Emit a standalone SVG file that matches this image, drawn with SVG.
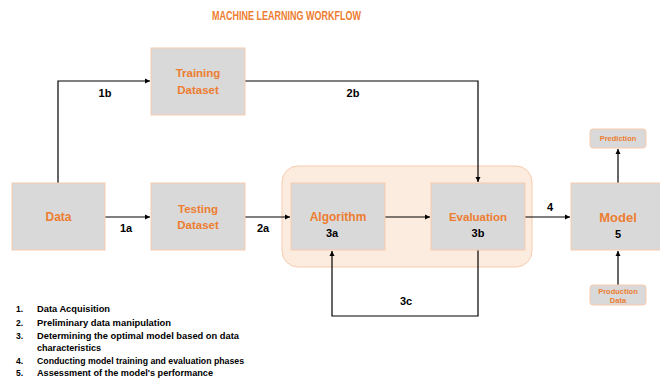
<svg xmlns="http://www.w3.org/2000/svg" width="660" height="383" viewBox="0 0 660 383">
<defs>
<marker id="arr" markerWidth="6" markerHeight="6" refX="5" refY="3" orient="auto" markerUnits="userSpaceOnUse">
<path d="M0,0.5 L5,3 L0,5.5 Z" fill="#000"/>
</marker>
</defs>
<style>
.box{fill:#D9D9D9;stroke:#F8CBAD;stroke-width:1}
.lbl{font-family:"Liberation Sans",Arial,sans-serif;font-weight:bold;fill:#ED7D31;text-anchor:middle}
.num{font-family:"Liberation Sans",Arial,sans-serif;font-weight:bold;fill:#000;text-anchor:middle;font-size:11px}
.leg{font-family:"Liberation Sans",Arial,sans-serif;font-weight:bold;fill:#000;font-size:8.5px}
.con{fill:none;stroke:#000;stroke-width:1.2}
</style>
<rect width="660" height="383" fill="#fff"/>
<text x="286.5" y="19.5" class="lbl" font-size="12.5" textLength="149" lengthAdjust="spacingAndGlyphs">MACHINE LEARNING WORKFLOW</text>

<g id="group-highlight">
<rect x="282" y="166" width="250" height="101" rx="16" fill="#FCEBDF" stroke="#F8CBAD" stroke-width="1"/>
</g>

<g id="connectors">
<polyline class="con" points="58,183 58,81 150,81" marker-end="url(#arr)"/>
<polyline class="con" points="245,81 478,81 478,182" marker-end="url(#arr)"/>
<line class="con" x1="105" y1="217" x2="150" y2="217" marker-end="url(#arr)"/>
<line class="con" x1="245" y1="217" x2="290" y2="217" marker-end="url(#arr)"/>
<line class="con" x1="385" y1="217" x2="430" y2="217" marker-end="url(#arr)"/>
<line class="con" x1="525" y1="217" x2="570" y2="217" marker-end="url(#arr)"/>
<polyline class="con" points="478,250 478,316 332,316 332,251" marker-end="url(#arr)"/>
<line class="con" x1="618" y1="183" x2="618" y2="149" marker-end="url(#arr)"/>
<line class="con" x1="618" y1="285" x2="618" y2="251" marker-end="url(#arr)"/>
<text x="105" y="97" class="num">1b</text>
<text x="353" y="97" class="num">2b</text>
<text x="126" y="232" class="num">1a</text>
<text x="263" y="232" class="num">2a</text>
<text x="550" y="211" class="num">4</text>
<text x="406" y="305" class="num">3c</text>
</g>

<g id="node-data">
<rect class="box" x="12" y="183" width="93" height="67"/>
<text x="58.5" y="221" class="lbl" font-size="12">Data</text>
</g>
<g id="node-training">
<rect class="box" x="151" y="48" width="94" height="67"/>
<text x="198" y="77" class="lbl" font-size="11.5">Training</text>
<text x="198" y="94" class="lbl" font-size="11.5">Dataset</text>
</g>
<g id="node-testing">
<rect class="box" x="151" y="183" width="94" height="67"/>
<text x="198" y="213" class="lbl" font-size="11.5">Testing</text>
<text x="198" y="229" class="lbl" font-size="11.5">Dataset</text>
</g>
<g id="node-algorithm">
<rect class="box" x="291" y="183" width="94" height="67"/>
<text x="338" y="221" class="lbl" font-size="12">Algorithm</text>
<text x="332" y="237" class="num">3a</text>
</g>
<g id="node-evaluation">
<rect class="box" x="431" y="183" width="94" height="67"/>
<text x="478" y="221" class="lbl" font-size="11.5">Evaluation</text>
<text x="478" y="237" class="num">3b</text>
</g>
<g id="node-model">
<rect class="box" x="571" y="183" width="94" height="67"/>
<text x="618" y="222" class="lbl" font-size="13">Model</text>
<text x="618" y="237.5" class="num" font-size="12">5</text>
</g>
<g id="node-prediction">
<rect class="box" x="590" y="129" width="56" height="19" rx="3"/>
<text x="618" y="141" class="lbl" font-size="7.5">Prediction</text>
</g>
<g id="node-production">
<rect class="box" x="590" y="285" width="56" height="20" rx="3"/>
<text x="618" y="293.5" class="lbl" font-size="7.5">Production</text>
<text x="618" y="302.5" class="lbl" font-size="7.5">Data</text>
</g>

<g id="legend">
<text x="16" y="312" class="leg">1.</text>
<text x="37" y="312" class="leg" textLength="73" lengthAdjust="spacingAndGlyphs">Data Acquisition</text>
<text x="16" y="326" class="leg">2.</text>
<text x="37" y="326" class="leg" textLength="134" lengthAdjust="spacingAndGlyphs">Preliminary data manipulation</text>
<text x="16" y="338.5" class="leg">3.</text>
<text x="37" y="338.5" class="leg" textLength="202" lengthAdjust="spacingAndGlyphs">Determining the optimal model based on data</text>
<text x="37" y="351" class="leg" textLength="64" lengthAdjust="spacingAndGlyphs">characteristics</text>
<text x="16" y="364" class="leg">4.</text>
<text x="37" y="364" class="leg" textLength="207" lengthAdjust="spacingAndGlyphs">Conducting model training and evaluation phases</text>
<text x="16" y="376" class="leg">5.</text>
<text x="37" y="376" class="leg" textLength="176" lengthAdjust="spacingAndGlyphs">Assessment of the model's performance</text>
</g>
</svg>
